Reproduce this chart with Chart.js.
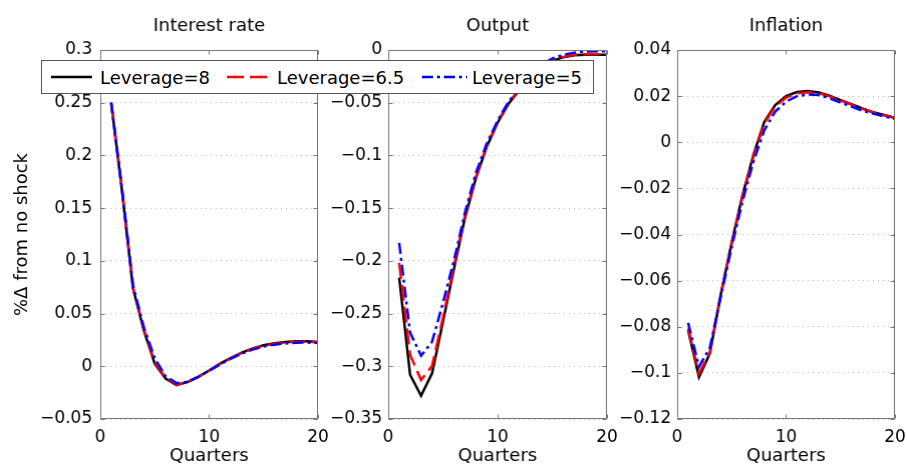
<!DOCTYPE html>
<html>
<head>
<meta charset="utf-8">
<script src="https://cdn.jsdelivr.net/npm/chart.js@4.4.1/dist/chart.umd.min.js"></script>
<style>
  html, body { margin: 0; padding: 0; background: #fff; overflow: hidden; }
  #wrap { position: relative; width: 907px; height: 468px; }
  canvas { position: absolute; top: 0; }
  #legend { position: absolute; left: 41px; top: 60px; z-index: 5; }
</style>
</head>
<body>
<div id="wrap">
  <canvas id="rateChart" width="330" height="468" style="left:0px"></canvas>
  <canvas id="outputChart" width="301" height="468" style="left:318px"></canvas>
  <canvas id="inflationChart" width="300" height="468" style="left:607px"></canvas>
  <svg id="legend" width="553" height="34" font-family="DejaVu Sans" font-size="18">
    <rect x="0.5" y="0.5" width="552" height="33" fill="#fff" stroke="#555" stroke-width="1"/>
    <line x1="10" y1="17" x2="51" y2="17" stroke="#000" stroke-width="2.5"/>
    <text x="59" y="23.5" fill="#000">Leverage=8</text>
    <line x1="186" y1="17" x2="228" y2="17" stroke="#ff0000" stroke-width="2.5" stroke-dasharray="17,6"/>
    <text x="236" y="23.5" fill="#000">Leverage=6.5</text>
    <line x1="381" y1="17" x2="426" y2="17" stroke="#0000ff" stroke-width="2.5" stroke-dasharray="11,4,3,4"/>
    <text x="431" y="23.5" fill="#000">Leverage=5</text>
  </svg>
</div>
<script>
// quarters after the shock
const quarters = [1, 2, 3, 4, 5, 6, 7, 8, 9, 10, 11, 12, 13, 14, 15, 16, 17, 18, 19, 20];

// interest rate responses
const rateLev8 = [0.250, 0.166, 0.074, 0.034, 0.0025, -0.0117, -0.018, -0.015, -0.010, -0.004,
  0.0025, 0.008, 0.013, 0.017, 0.020, 0.0218, 0.023, 0.0237, 0.0237, 0.023];
const rateLev65 = [0.250, 0.167, 0.075, 0.035, 0.004, -0.011, -0.0175, -0.015, -0.010, -0.004,
  0.0022, 0.0077, 0.0127, 0.0166, 0.0195, 0.0213, 0.0226, 0.0232, 0.0233, 0.0228];
const rateLev5 = [0.250, 0.168, 0.077, 0.037, 0.0076, -0.0095, -0.016, -0.0148, -0.010, -0.0042,
  0.0018, 0.0072, 0.012, 0.0158, 0.0187, 0.0205, 0.0217, 0.0224, 0.0225, 0.0221];

// output responses
const outLev8 = [-0.216, -0.308, -0.328, -0.307, -0.258, -0.208, -0.160, -0.122, -0.092, -0.069,
  -0.051, -0.038, -0.026, -0.016, -0.010, -0.007, -0.005, -0.0045, -0.0045, -0.0045];
const outLev65 = [-0.202, -0.289, -0.313, -0.300, -0.254, -0.205, -0.158, -0.121, -0.091, -0.068,
  -0.050, -0.037, -0.025, -0.015, -0.0095, -0.0065, -0.0045, -0.004, -0.004, -0.004];
const outLev5 = [-0.183, -0.268, -0.290, -0.277, -0.240, -0.200, -0.155, -0.117, -0.089, -0.067,
  -0.049, -0.036, -0.024, -0.014, -0.008, -0.0045, -0.0025, -0.0015, -0.0012, -0.0012];

// inflation responses
const inflLev8 = [-0.0815, -0.1018, -0.0915, -0.066, -0.0435, -0.0229, -0.0055, 0.0089, 0.0161, 0.0200,
  0.0218, 0.0222, 0.0216, 0.0202, 0.0183, 0.0165, 0.0147, 0.0130, 0.0118, 0.0106];
const inflLev65 = [-0.0807, -0.1003, -0.0910, -0.0660, -0.0440, -0.0235, -0.0062, 0.0082, 0.0155, 0.0194,
  0.0212, 0.0217, 0.0212, 0.0199, 0.0181, 0.0163, 0.0145, 0.0129, 0.0117, 0.0105];
const inflLev5 = [-0.0783, -0.0974, -0.0890, -0.0670, -0.0455, -0.0255, -0.0084, 0.0053, 0.0133, 0.0176,
  0.0200, 0.0207, 0.0205, 0.0190, 0.0172, 0.0155, 0.0137, 0.0124, 0.0112, 0.0101];

const seriesNames = ['Leverage=8', 'Leverage=6.5', 'Leverage=5'];

Chart.defaults.font.family = 'DejaVu Sans';
Chart.defaults.font.size = 17;
Chart.defaults.color = '#000';
Chart.defaults.animation = false;

// matlab style box with inward ticks
const boxPlugin = {
  id: 'box',
  afterDraw(chart) {
    const { ctx, chartArea: a, scales } = chart;
    const l = Math.round(a.left) + 0.5, r = Math.round(a.right) - 0.5;
    const t = Math.round(a.top) + 0.5, b = Math.round(a.bottom) - 0.5;
    ctx.save();
    ctx.strokeStyle = '#777';
    ctx.lineWidth = 1;
    ctx.strokeRect(l, t, r - l, b - t);
    ctx.beginPath();
    scales.x.ticks.forEach(tk => {
      const px = Math.round(scales.x.getPixelForValue(tk.value)) + 0.5;
      ctx.moveTo(px, b); ctx.lineTo(px, b - 4);
      ctx.moveTo(px, t); ctx.lineTo(px, t + 4);
    });
    scales.y.ticks.forEach(tk => {
      const py = Math.round(scales.y.getPixelForValue(tk.value)) + 0.5;
      ctx.moveTo(l, py); ctx.lineTo(l + 4, py);
      ctx.moveTo(r, py); ctx.lineTo(r - 4, py);
    });
    ctx.stroke();
    ctx.restore();
  }
};

const toPoints = (arr) => quarters.map((q, i) => ({ x: q, y: arr[i] }));

// target plot box inside each canvas, matching the figure
function makePanel(id, title, data, yMin, yMax, yStep, box, yPad, yTitle) {
  const geo = { yW: box.left, topH: box.top, botH: 468 - box.bottom };
  const styles = [
    { color: '#000000', dash: [], order: 3 },
    { color: '#ff0000', dash: [16, 6], order: 2 },
    { color: '#0000ff', dash: [11, 4, 3, 4], order: 1 }
  ];
  const chart = new Chart(document.getElementById(id), {
    type: 'line',
    data: {
      datasets: data.map((arr, i) => ({
        label: seriesNames[i],
        data: toPoints(arr),
        borderColor: styles[i].color,
        borderDash: styles[i].dash,
        borderWidth: 2.5,
        pointRadius: 0,
        tension: 0,
        fill: false,
        order: styles[i].order
      }))
    },
    options: {
      responsive: false,
      maintainAspectRatio: false,
      layout: { padding: 0 },
      plugins: { legend: { display: false }, tooltip: { enabled: false } },
      scales: {
        x: {
          type: 'linear',
          min: 0, max: 20,
          grid: { display: false, drawTicks: false },
          border: { display: false },
          ticks: { stepSize: 10, padding: 8, font: { size: 17 } },
          title: { display: true, text: 'Quarters', font: { size: 18 }, padding: { top: 0, bottom: 1 } },
          afterFit: (s) => { s.height = geo.botH; }
        },
        xt: {
          type: 'linear',
          position: 'top',
          min: 0, max: 20,
          grid: { display: false, drawTicks: false },
          border: { display: false },
          ticks: { display: false },
          title: { display: true, text: title, font: { size: 18 }, padding: { top: 16, bottom: 0 } },
          afterFit: (s) => { s.height = geo.topH; }
        },
        y: {
          min: yMin, max: yMax,
          grid: { color: '#b4b4b4', lineWidth: 1, drawTicks: false },
          border: { display: false, dash: [1, 4] },
          ticks: {
            stepSize: yStep,
            padding: yPad,
            autoSkip: false,
            font: { size: 17 },
            callback: (v) => String(Math.round(v * 1000) / 1000).replace('-', '\u2212')
          },
          title: { display: !!yTitle, text: yTitle || '', font: { size: 18 }, padding: { top: 12, bottom: 0 } },
          afterFit: (s) => { s.width = geo.yW; }
        }
      }
    },
    plugins: [boxPlugin]
  });

  // nudge the layout until the plot box sits where the figure has it
  for (let k = 0; k < 3; k++) {
    const a = chart.chartArea;
    geo.yW += box.left - a.left;
    geo.topH += box.top - a.top;
    geo.botH += a.bottom - box.bottom;
    const dw = box.right - a.right;
    if (Math.abs(dw) > 0.2) {
      chart.resize(chart.width + dw, 468);
    }
    chart.update();
  }
  return chart;
}

makePanel('rateChart', 'Interest rate', [rateLev8, rateLev65, rateLev5], -0.05, 0.3, 0.05,
  { left: 100, right: 317, top: 50, bottom: 419 }, 8, '%\u0394 from no shock');
makePanel('outputChart', 'Output', [outLev8, outLev65, outLev5], -0.35, 0, 0.05,
  { left: 70, right: 288, top: 50, bottom: 419 }, 6, null);
makePanel('inflationChart', 'Inflation', [inflLev8, inflLev65, inflLev5], -0.12, 0.04, 0.02,
  { left: 70, right: 287, top: 50, bottom: 419 }, 6, null);
</script>
</body>
</html>
